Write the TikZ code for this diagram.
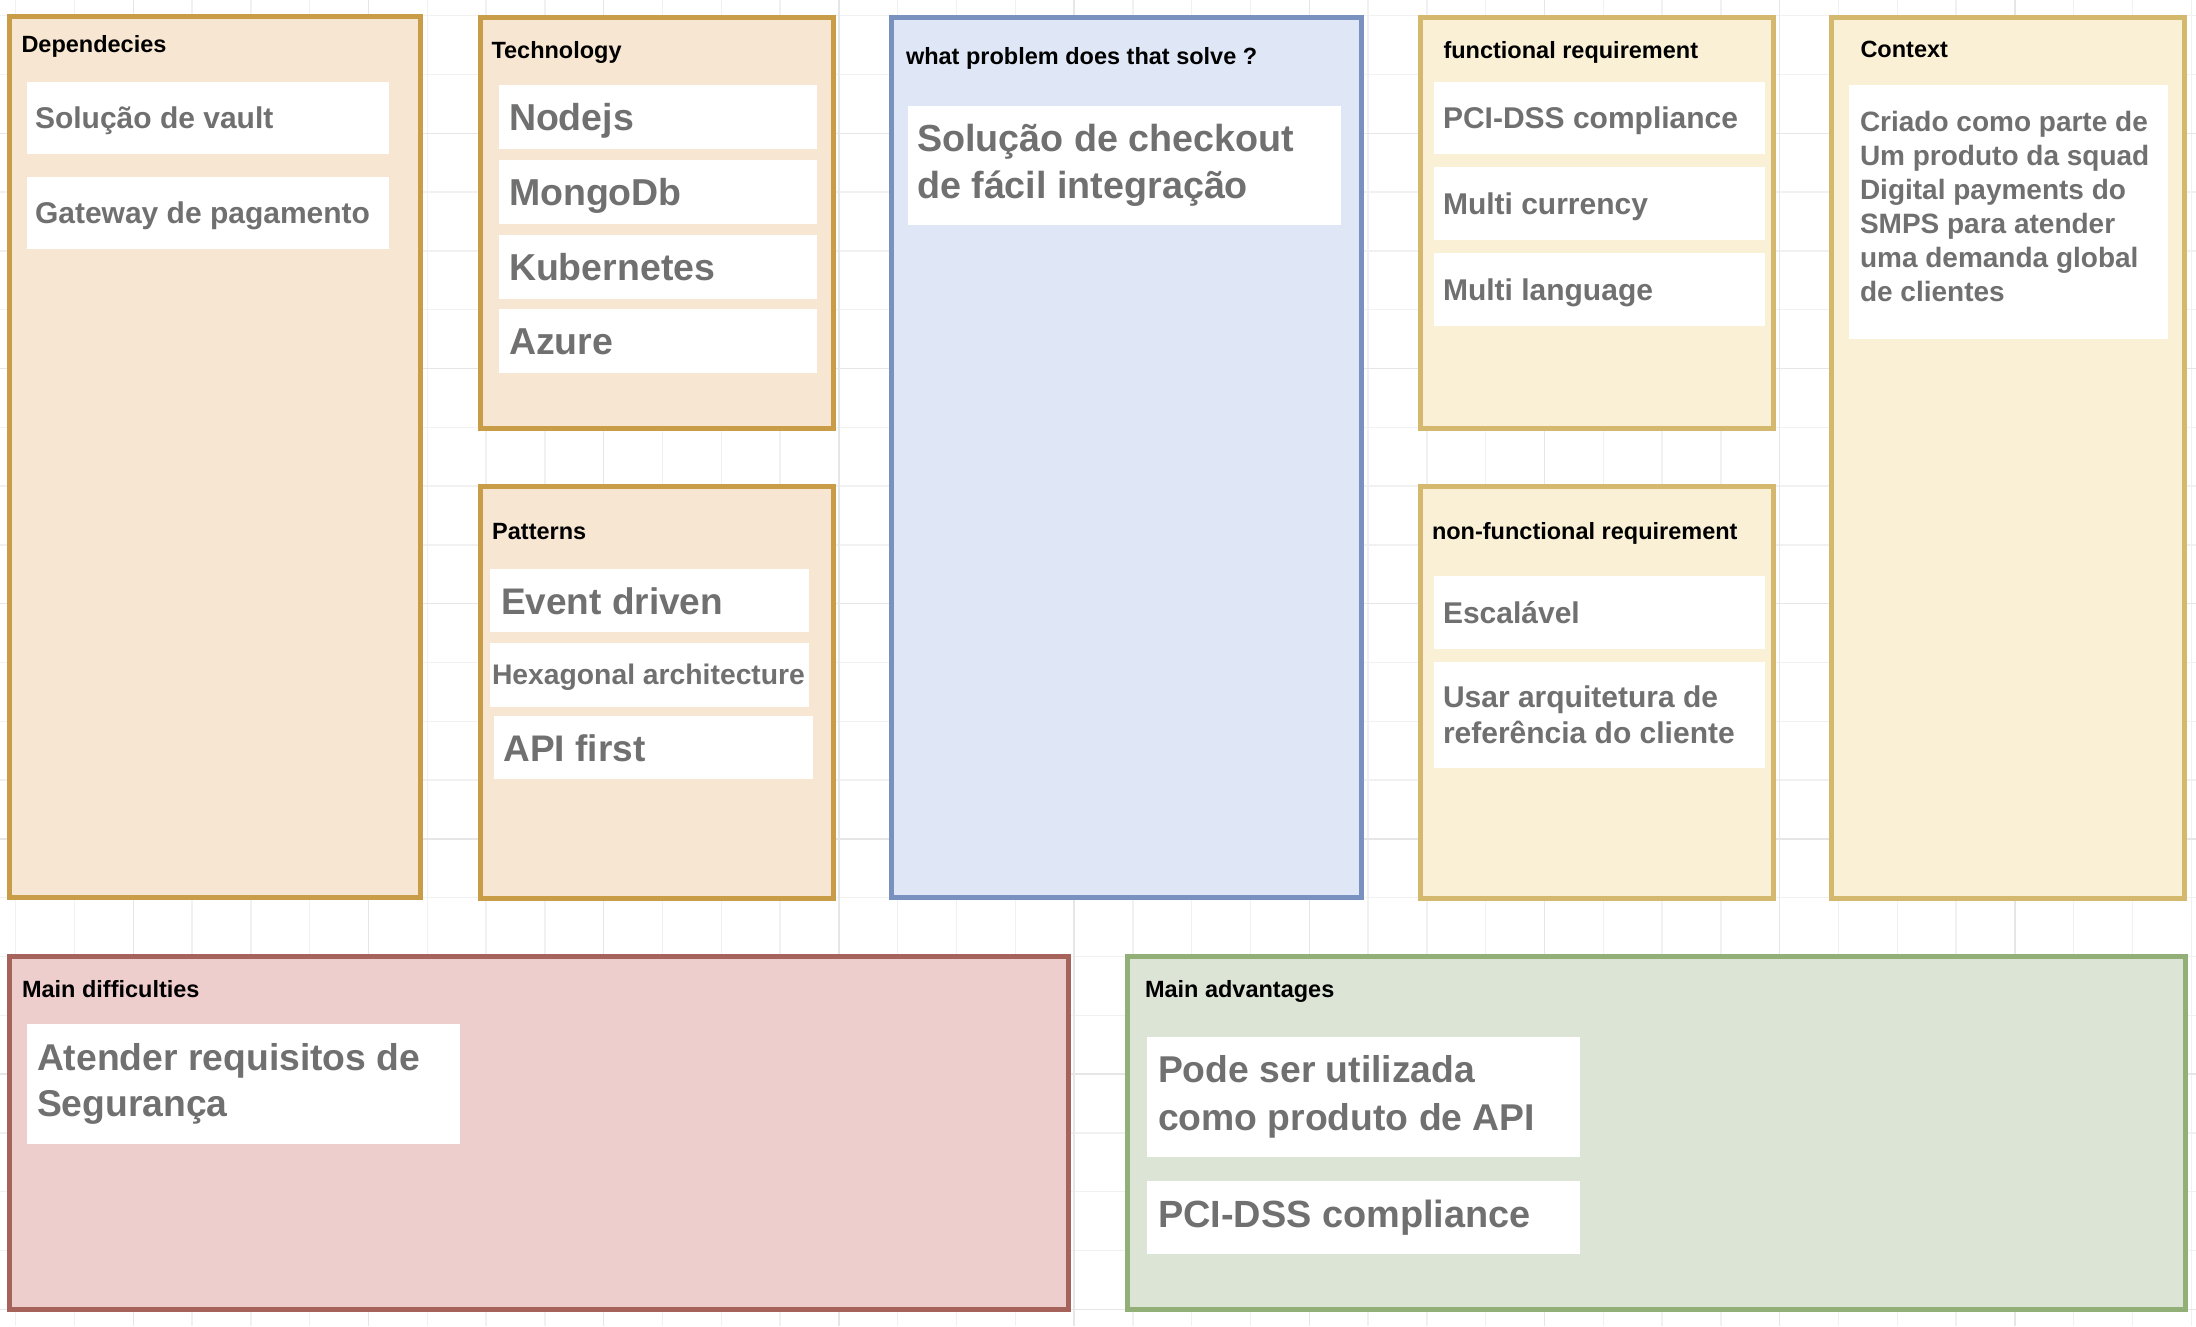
\documentclass[tikz,border=0pt]{standalone}
\usepackage{fontspec}
\setmainfont{Liberation Sans}
\definecolor{orfill}{HTML}{F7E6D2}
\definecolor{orline}{HTML}{C99C48}
\definecolor{yefill}{HTML}{FAF0D5}
\definecolor{yeline}{HTML}{D4B86E}
\definecolor{blfill}{HTML}{DFE7F7}
\definecolor{blline}{HTML}{7891BF}
\definecolor{refill}{HTML}{EDCECC}
\definecolor{reline}{HTML}{A6635B}
\definecolor{grfill}{HTML}{DCE5D5}
\definecolor{grline}{HTML}{93AF78}
\definecolor{txtgray}{HTML}{707070}
\definecolor{gridminor}{HTML}{F1F1F1}
\definecolor{gridmajor}{HTML}{E6E6E6}
\tikzset{
  panel/.style={line width=5pt, line join=miter, outer sep=0pt, inner sep=0pt, anchor=north west, rectangle},
  orpanel/.style={panel, fill=orfill, draw=orline},
  yepanel/.style={panel, fill=yefill, draw=yeline},
  blpanel/.style={panel, fill=blfill, draw=blline},
  repanel/.style={panel, fill=refill, draw=reline},
  grpanel/.style={panel, fill=grfill, draw=grline},
  ttl/.style={anchor=base west, inner sep=0pt, outer sep=0pt, font=\fontsize{23.5}{28}\selectfont\bfseries, text=black},
  card/.style={fill=white, draw=none, anchor=north west, inner ysep=0pt, outer sep=0pt, align=flush left, text=txtgray},
  fa/.style={font=\fontsize{30}{35.7}\selectfont\bfseries, text height=21.9pt, text depth=0pt},
  fb/.style={font=\fontsize{37.5}{47}\selectfont\bfseries, text height=27.4pt, text depth=0pt},
  fc/.style={font=\fontsize{37}{47}\selectfont\bfseries, text height=27pt, text depth=0pt},
  gminor/.style={draw=gridminor, line width=1.5pt},
  gmajor/.style={draw=gridmajor, line width=1.5pt},
}
\begin{document}
\begin{tikzpicture}[x=1pt, y=-1pt]
\useasboundingbox (0,0) rectangle (2196,1326);
\fill[white] (0,0) rectangle (2196,1326);
% grid
\foreach \i in {0,...,37} {
  \pgfmathsetmacro\gx{15.7+58.8*\i}
  \draw[gminor] (\gx,0) -- (\gx,1326);
}
\foreach \i in {0,...,22} {
  \pgfmathsetmacro\gy{15.7+58.8*\i}
  \draw[gminor] (0,\gy) -- (2196,\gy);
}
\foreach \i in {0,...,8} {
  \pgfmathsetmacro\gx{133.3+235.2*\i}
  \draw[gmajor] (\gx,0) -- (\gx,1326);
}
\foreach \i in {0,...,5} {
  \pgfmathsetmacro\gy{133.3+235.2*\i}
  \draw[gmajor] (0,\gy) -- (2196,\gy);
}

% panels
\node[orpanel, minimum width=411pt, minimum height=881pt] (dep) at (9,16) {};
\node[orpanel, minimum width=353pt, minimum height=411pt] (tech) at (480,17) {};
\node[orpanel, minimum width=353pt, minimum height=411.5pt] (pat) at (480,486.5) {};
\node[blpanel, minimum width=470pt, minimum height=880pt] (prob) at (891,17) {};
\node[yepanel, minimum width=353pt, minimum height=411pt] (func) at (1420,17) {};
\node[yepanel, minimum width=353pt, minimum height=411.5pt] (nfunc) at (1420,486.5) {};
\node[yepanel, minimum width=353pt, minimum height=881pt] (ctx) at (1831,17) {};
\node[repanel, minimum width=1059pt, minimum height=352.5pt] (diff) at (9,956.5) {};
\node[grpanel, minimum width=1058pt, minimum height=352.5pt] (adv) at (1127,956.5) {};

% titles
\node[ttl] (tdep) at (21.5,52.5) {Dependecies};
\node[ttl] (ttech) at (491.5,58) {Technology};
\node[ttl] (tpat) at (492.2,539) {Patterns};
\node[ttl] (tprob) at (906,64) {what problem does that solve ?};
\node[ttl] (tfunc) at (1443.5,58.5) {functional requirement};
\node[ttl] (tnfunc) at (1432,539) {non-functional requirement};
\node[ttl] (tctx) at (1860.5,57.5) {Context};
\node[ttl] (tdiff) at (22,997.5) {Main difficulties};
\node[ttl] (tadv) at (1145,997.5) {Main advantages};

% Dependecies cards
\node[card, fa, inner xsep=8pt, text width=346pt, minimum height=72pt] (c1) at (27,82) {Solução de vault};
\node[card, fa, inner xsep=8pt, text width=346pt, minimum height=72pt] (c2) at (27,177) {Gateway de pagamento};

% Technology cards
\node[card, fb, inner xsep=10pt, text width=298pt, minimum height=64pt] (c3) at (499,85) {Nodejs};
\node[card, fb, inner xsep=10pt, text width=298pt, minimum height=64pt] (c4) at (499,160) {MongoDb};
\node[card, fb, inner xsep=10pt, text width=298pt, minimum height=64pt] (c5) at (499,235) {Kubernetes};
\node[card, fb, inner xsep=10pt, text width=298pt, minimum height=64pt] (c6) at (499,309) {Azure};

% Patterns cards
\node[card, fc, inner xsep=11pt, text width=297pt, minimum height=63pt] (c7) at (490,569) {Event driven};
\node[card, font=\fontsize{28.3}{34}\selectfont\bfseries, text height=20.7pt, text depth=2pt, inner xsep=2pt, text width=315pt, minimum height=64pt] (c8) at (490,643) {Hexagonal architecture};
\node[card, fc, inner xsep=9.5pt, text width=300pt, minimum height=63pt] (c9) at (494,716) {API first};

% problem card
\node[card, font=\fontsize{37.7}{47}\selectfont\bfseries, inner xsep=9pt, text width=415pt, minimum height=119pt] (c10) at (908,106) {Solução de checkout\\de fácil integração};

% functional cards
\node[card, fa, inner xsep=9pt, text width=313pt, minimum height=72pt] (c11) at (1434,82) {PCI-DSS compliance};
\node[card, fa, inner xsep=9pt, text width=313pt, minimum height=73pt] (c12) at (1434,167) {Multi currency};
\node[card, fa, inner xsep=9pt, text width=313pt, minimum height=73pt] (c13) at (1434,253) {Multi language};

% context card
\node[card, minimum width=319pt, minimum height=254pt] (c14) at (1849,85) {};
\node[anchor=north west, inner sep=0pt, outer sep=0pt, align=flush left, text width=305pt, text=txtgray, font=\fontsize{28}{34}\selectfont\bfseries] (c14t) at (1860,111.2) {Criado como parte de\\Um produto da squad\\Digital payments do\\SMPS para atender\\uma demanda global\\de clientes};

% non-functional cards
\node[card, fa, inner xsep=9pt, text width=313pt, minimum height=73pt] (c15) at (1434,576) {Escalável};
\node[card, font=\fontsize{30}{35.7}\selectfont\bfseries, inner xsep=9pt, text width=313pt, minimum height=106pt] (c16) at (1434,662) {Usar arquitetura de\\referência do cliente};

% difficulties card
\node[card, font=\fontsize{37.3}{46.5}\selectfont\bfseries, inner xsep=10pt, text width=413pt, minimum height=120pt] (c17) at (27,1024) {Atender requisitos de\\Segurança};

% advantages cards
\node[card, font=\fontsize{37.3}{48}\selectfont\bfseries, inner xsep=11pt, text width=411pt, minimum height=120pt] (c18) at (1147,1037) {Pode ser utilizada\\como produto de API};
\node[card, font=\fontsize{37.9}{47}\selectfont\bfseries, inner xsep=11pt, text width=411pt, minimum height=73pt] (c19) at (1147,1181) {PCI-DSS compliance};
\end{tikzpicture}
\end{document}
